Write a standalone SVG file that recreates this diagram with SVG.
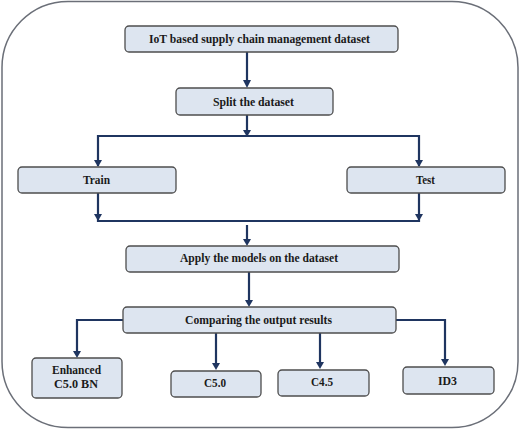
<svg xmlns="http://www.w3.org/2000/svg" width="520" height="431" viewBox="0 0 520 431">
<defs>
<style>
.box{fill:#dde5f0;stroke:#4d4d4d;stroke-width:1.3}
.t{font-family:'Liberation Serif','DejaVu Serif',serif;font-weight:700;font-size:13px;fill:#1a1a1a;text-anchor:middle}
.s{font-size:11.5px}
.c{fill:none;stroke:#1f3560;stroke-width:2.2}
.a{fill:#1f3560}
</style>
</defs>
<rect x="2" y="1.5" width="516" height="426" rx="66" ry="66" fill="#fff" stroke="#6b6f78" stroke-width="1.5"/>
<g id="connectors">
<path class="c" d="M247,52 V81"/><path class="a" d="M243,80 L251,80 L247,88 Z"/>
<path class="c" d="M247,115 V131"/><path class="a" d="M243,130 L251,130 L247,137 Z"/>
<path class="c" d="M98,166 V136 H419 V166"/>
<path class="a" d="M94,160 L102,160 L98,167 Z"/><path class="a" d="M415,160 L423,160 L419,167 Z"/>
<path class="c" d="M98,193 V221 H419 V193"/>
<path class="a" d="M94,214 L102,214 L98,221 Z"/><path class="a" d="M415,214 L423,214 L419,221 Z"/>
<path class="c" d="M247,225 V240"/><path class="a" d="M243,239 L251,239 L247,246 Z"/>
<path class="c" d="M249,272 V301"/><path class="a" d="M245,300 L253,300 L249,307 Z"/>
<path class="c" d="M123,320 H77 V352"/><path class="a" d="M73,351 L81,351 L77,358 Z"/>
<path class="c" d="M216,333 V364"/><path class="a" d="M212,363 L220,363 L216,370 Z"/>
<path class="c" d="M320,333 V363"/><path class="a" d="M316,362 L324,362 L320,369 Z"/>
<path class="c" d="M396,320 H445 V360"/><path class="a" d="M441,359 L449,359 L445,366 Z"/>
</g>
<g id="n1"><rect class="box" x="125" y="26" width="273" height="26" rx="4"/><text class="t" x="259.5" y="42.5" textLength="221" lengthAdjust="spacingAndGlyphs">IoT based supply chain management dataset</text></g>
<g id="n2"><rect class="box" x="176" y="88" width="157" height="27" rx="4"/><text class="t" x="253.5" y="105.5" textLength="81" lengthAdjust="spacingAndGlyphs">Split the dataset</text></g>
<g id="n3"><rect class="box" x="18" y="167" width="158" height="26" rx="4"/><text class="t" x="96.5" y="184" textLength="27" lengthAdjust="spacingAndGlyphs">Train</text></g>
<g id="n4"><rect class="box" x="347" y="167" width="158" height="26" rx="4"/><text class="t" x="425.5" y="184" textLength="19" lengthAdjust="spacingAndGlyphs">Test</text></g>
<g id="n5"><rect class="box" x="126" y="246" width="273" height="26" rx="4"/><text class="t" x="259" y="262" textLength="158" lengthAdjust="spacingAndGlyphs">Apply the models on the dataset</text></g>
<g id="n6"><rect class="box" x="123" y="307" width="273" height="26" rx="4"/><text class="t" x="258.5" y="324" textLength="147" lengthAdjust="spacingAndGlyphs">Comparing the output results</text></g>
<g id="n7"><rect class="box" x="32" y="358" width="90" height="40" rx="4"/><text class="t s" x="76.5" y="374" textLength="49" lengthAdjust="spacingAndGlyphs">Enhanced</text><text class="t s" x="76" y="387.5" textLength="44" lengthAdjust="spacingAndGlyphs">C5.0 BN</text></g>
<g id="n8"><rect class="box" x="171" y="371" width="90" height="26" rx="4"/><text class="t" x="215" y="386.5" textLength="22" lengthAdjust="spacingAndGlyphs">C5.0</text></g>
<g id="n9"><rect class="box" x="278" y="370" width="91" height="26" rx="4"/><text class="t" x="322" y="386" textLength="22" lengthAdjust="spacingAndGlyphs">C4.5</text></g>
<g id="n10"><rect class="box" x="403" y="367" width="91" height="27" rx="4"/><text class="t" x="447.5" y="384.5" textLength="19" lengthAdjust="spacingAndGlyphs">ID3</text></g>
</svg>
